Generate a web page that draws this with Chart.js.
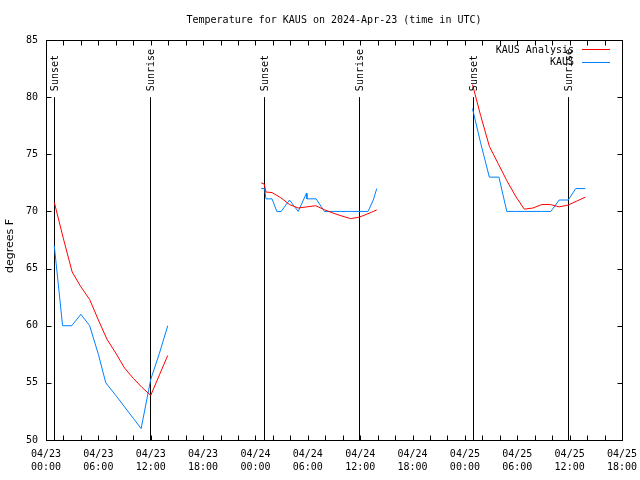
<!DOCTYPE html>
<html>
<head>
<meta charset="utf-8">
<script src="https://cdn.jsdelivr.net/npm/chart.js@4.4.1/dist/chart.umd.min.js"></script>
<style>
  html, body { margin: 0; padding: 0; background: #fff; }
  #wrap { width: 640px; height: 480px; }
</style>
</head>
<body>
<div id="wrap"><canvas id="TempChart" width="640" height="480"></canvas></div>
<script>
// hours after 04/23 00:00 UTC, null temp = gap between nights
var analysisHours = [0.95, 2, 3, 4, 5, 6, 7, 8, 9, 10, 11, 12, 13, 13.95,
    19,
    24.65, 25.0, 25.2, 25.9, 26.9, 27.9, 28.9, 29.9, 30.9, 31.9, 32.9, 33.9, 34.9, 35.9, 36.9, 37.9,
    44,
    48.87, 49.8, 50.8, 51.8, 52.8, 53.8, 54.8, 55.8, 56.8, 57.8, 58.8, 59.8, 60.8, 61.8];
var analysisTemps = [70.8, 67.6, 64.7, 63.4, 62.3, 60.5, 58.8, 57.6, 56.3, 55.4, 54.6, 53.9, 55.7, 57.4,
    null,
    72.5, 72.4, 71.7, 71.65, 71.2, 70.6, 70.3, 70.4, 70.5, 70.15, 69.85, 69.6, 69.37, 69.5, 69.8, 70.13,
    null,
    81.1, 78.4, 75.7, 74.2, 72.7, 71.35, 70.2, 70.3, 70.6, 70.6, 70.4, 70.55, 70.9, 71.25];

var obsHours = [0.95, 1.9, 2.95, 4, 5, 6, 6.85, 8, 9, 10, 10.9, 12.0, 13, 13.95,
    19,
    24.65, 25.05, 25.2, 25.9, 26.45, 26.95, 27.9, 28.9, 29.85, 29.9, 30.95, 31.9, 32.9, 33.9, 34.9, 35.9, 36.9, 37.5, 37.9,
    44,
    48.87, 49.8, 50.8, 51.9, 52.8, 53.8, 54.8, 55.8, 56.8, 57.85, 58.8, 59.85, 60.7, 61.8];
var obsTemps = [67, 60, 60, 61, 60, 57.5, 55, 53.9, 52.9, 51.9, 51, 55.3, 57.6, 60,
    null,
    72, 72, 71.1, 71.1, 70, 70, 71, 70, 71.6, 71.1, 71.1, 70, 70, 70, 70, 70, 70, 71, 72,
    null,
    79, 76, 73, 73, 70, 70, 70, 70, 70, 70, 71, 71, 72, 72];

var sunHours = [0.95, 11.95, 25.0, 35.9, 48.95, 59.85];
var sunLabels = ['Sunset', 'Sunrise', 'Sunset', 'Sunrise', 'Sunset', 'Sunrise'];
var sunLineTop = 80;

var yTicks = [50, 55, 60, 65, 70, 75, 80, 85];

var mono = '"DejaVu Sans Mono", "Liberation Mono", monospace';

function pad2(n) { return (n < 10 ? '0' : '') + n; }

function toPoints(hours, temps) {
    return hours.map(function (h, i) { return { x: h, y: temps[i] }; });
}

var data = {
    datasets: [
        {
            label: 'KAUS Analysis',
            data: toPoints(analysisHours, analysisTemps),
            borderColor: '#ff0000',
            backgroundColor: '#ff0000',
            borderWidth: 1,
            pointRadius: 0,
            fill: false,
            spanGaps: false,
            lineTension: 0
        },
        {
            label: 'KAUS',
            data: toPoints(obsHours, obsTemps),
            borderColor: '#0080ff',
            backgroundColor: '#0080ff',
            borderWidth: 1,
            pointRadius: 0,
            fill: false,
            spanGaps: false,
            lineTension: 0
        }
    ]
};

// gnuplot style: frame, inward ticks, sun lines, legend, title
var gnuplotLook = {
    id: 'gnuplotLook',
    beforeDatasetsDraw: function (chart) {
        var ctx = chart.ctx, xs = chart.scales.x, ys = chart.scales.y;
        ctx.save();
        ctx.strokeStyle = '#000';
        ctx.lineWidth = 1;
        var yb = chart.chartArea.bottom, yt = ys.getPixelForValue(sunLineTop);
        sunHours.forEach(function (h) {
            var px = Math.round(xs.getPixelForValue(h)) + 0.5;
            ctx.beginPath();
            ctx.moveTo(px, yb);
            ctx.lineTo(px, yt);
            ctx.stroke();
        });
        ctx.restore();
    },
    afterDraw: function (chart) {
        var ctx = chart.ctx, a = chart.chartArea, xs = chart.scales.x, ys = chart.scales.y;
        var L = Math.round(a.left) + 0.5, R = Math.round(a.right) + 0.5;
        var T = Math.round(a.top) + 0.5, B = Math.round(a.bottom) + 0.5;
        ctx.save();
        ctx.strokeStyle = '#000';
        ctx.lineWidth = 1;
        ctx.strokeRect(L, T, R - L, B - T);

        ctx.beginPath();
        xs.ticks.forEach(function (t) {
            var px = Math.round(xs.getPixelForValue(t.value)) + 0.5;
            ctx.moveTo(px, B); ctx.lineTo(px, B - 5);
            ctx.moveTo(px, T); ctx.lineTo(px, T + 5);
        });
        ys.ticks.forEach(function (t) {
            var py = Math.round(ys.getPixelForValue(t.value)) + 0.5;
            ctx.moveTo(L, py); ctx.lineTo(L + 5, py);
            ctx.moveTo(R, py); ctx.lineTo(R - 5, py);
        });
        ctx.stroke();

        // sunset / sunrise labels
        ctx.fillStyle = '#000';
        ctx.font = '10px ' + mono;
        ctx.textAlign = 'left';
        ctx.textBaseline = 'middle';
        var yt = ys.getPixelForValue(sunLineTop);
        sunHours.forEach(function (h, i) {
            var px = xs.getPixelForValue(h) + 1;
            ctx.save();
            ctx.translate(px, yt - 6);
            ctx.rotate(-Math.PI / 2);
            ctx.fillText(sunLabels[i], 0, 0);
            ctx.restore();
        });

        // legend
        ctx.textAlign = 'right';
        chart.data.datasets.forEach(function (ds, i) {
            var y = 50 + i * 12.5;
            ctx.fillStyle = '#000';
            ctx.fillText(ds.label, 574, y);
            ctx.strokeStyle = ds.borderColor;
            ctx.beginPath();
            ctx.moveTo(582, Math.round(y) - 0.5);
            ctx.lineTo(610, Math.round(y) - 0.5);
            ctx.stroke();
        });

        // title
        ctx.fillStyle = '#000';
        ctx.textAlign = 'center';
        ctx.fillText('Temperature for KAUS on 2024-Apr-23 (time in UTC)', (a.left + a.right) / 2, 20);

        // y axis title
        ctx.font = '11px "DejaVu Sans", sans-serif';
        ctx.translate(10, 246);
        ctx.rotate(-Math.PI / 2);
        ctx.fillText('degrees F', 0, 0);
        ctx.restore();
    }
};

var options = {
    responsive: false,
    animation: false,
    layout: { padding: { top: 40, right: 18, left: 0, bottom: 0 } },
    plugins: {
        title: { display: false },
        legend: { display: false },
        tooltip: { enabled: false }
    },
    scales: {
        x: {
            type: 'linear',
            min: 0,
            max: 66,
            grid: { display: false, drawTicks: false },
            border: { display: false },
            afterFit: function (scale) {
                scale.height = 40;
                scale.paddingLeft = 0;
                scale.paddingRight = 0;
            },
            ticks: {
                stepSize: 2,
                autoSkip: false,
                maxRotation: 0,
                padding: 8,
                color: '#000',
                font: { family: mono, size: 10, lineHeight: 1.27 },
                callback: function (v) {
                    if (v % 6 !== 0) return '';
                    return ['04/' + pad2(23 + Math.floor(v / 24)), pad2(v % 24) + ':00'];
                }
            }
        },
        y: {
            min: 50,
            max: 85,
            grid: { display: false, drawTicks: false },
            border: { display: false },
            afterFit: function (scale) {
                scale.width = 46;
                scale.paddingTop = 0;
                scale.paddingBottom = 0;
            },
            afterBuildTicks: function (scale) {
                scale.ticks = yTicks.map(function (v) { return { value: v }; });
            },
            ticks: {
                padding: 8,
                color: '#000',
                font: { family: mono, size: 10 }
            }
        }
    }
};

var chart = new Chart(document.getElementById('TempChart'), {
    type: 'line',
    data: data,
    options: options,
    plugins: [gnuplotLook]
});
</script>
</body>
</html>
